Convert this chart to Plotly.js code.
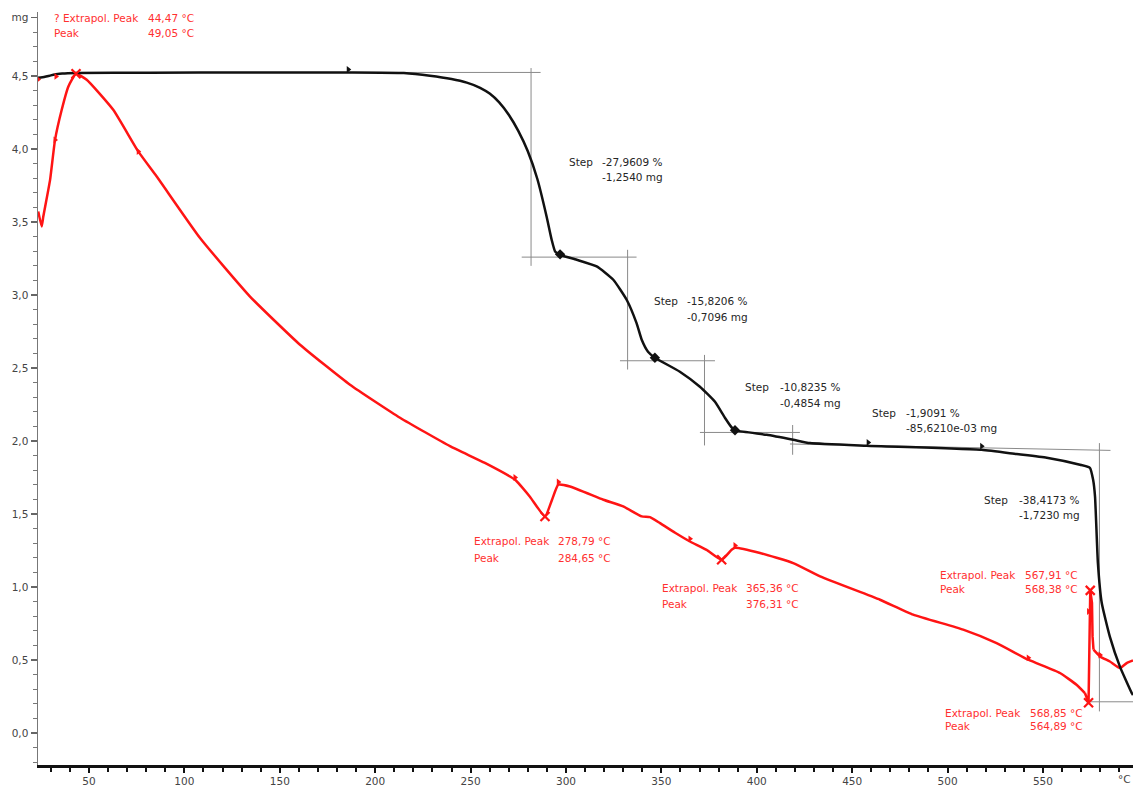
<!DOCTYPE html>
<html>
<head>
<meta charset="utf-8">
<script src="https://cdn.plot.ly/plotly-3.0.1.min.js"></script>
<style>html,body{margin:0;padding:0;background:#fff;}#chart{width:1133px;height:787px;}</style>
</head>
<body>
<div id="chart"></div>
<script>
// ---- TG curve (mass, mg) ----
const tgTemp = [23.3, 26.9, 30, 32.7, 36, 43.2, 82, 134.4, 186.8, 215, 228.7, 240, 248, 255, 260, 265, 270, 275, 280, 285, 289.9, 292.5, 294.3, 296.9, 305.6, 316.1, 324.8, 331.8, 337, 339.7, 343, 346.6, 359.7, 370.2, 378.1, 383.3, 387, 389.6, 405.2, 419.1, 427.9, 457.6, 517.9, 536.2, 552, 569.4, 574.6, 576.3, 577.3, 578.8, 580.8, 585.1, 590.4, 596.5, 597.2];
const tgMass = [4.488, 4.495, 4.505, 4.512, 4.518, 4.522, 4.523, 4.525, 4.525, 4.521, 4.503, 4.48, 4.455, 4.42, 4.38, 4.32, 4.235, 4.125, 3.985, 3.795, 3.535, 3.379, 3.299, 3.276, 3.242, 3.196, 3.105, 2.968, 2.808, 2.694, 2.612, 2.571, 2.475, 2.372, 2.269, 2.16, 2.091, 2.071, 2.043, 2.009, 1.986, 1.968, 1.94, 1.911, 1.886, 1.838, 1.817, 1.735, 1.62, 1.166, 0.892, 0.659, 0.453, 0.275, 0.26];

// ---- DTA curve (red) ----
const dtaTemp = [23.4, 25.2, 26.05, 29.6, 32.2, 35.7, 39.2, 43.2, 48.8, 62.7, 75.8, 85.5, 108.2, 134.4, 160.6, 186.8, 213, 239.2, 257.5, 273.3, 281.1, 289, 292.7, 296, 302.1, 319.6, 330, 339.7, 344, 349.3, 357.2, 365, 373.7, 381.6, 386.8, 388.6, 401.7, 419.1, 433.2, 464.6, 482, 508.2, 525.7, 542.3, 558.9, 567.6, 572, 573.9, 574.8, 575.7, 576, 576.5, 579.9, 585.1, 590.4, 593.9, 597.2];
const dtaVal  = [3.573, 3.47, 3.538, 3.789, 4.063, 4.269, 4.429, 4.516, 4.475, 4.269, 3.984, 3.812, 3.391, 2.99, 2.66, 2.386, 2.16, 1.965, 1.85, 1.735, 1.619, 1.483, 1.598, 1.701, 1.689, 1.598, 1.552, 1.484, 1.479, 1.438, 1.372, 1.312, 1.255, 1.187, 1.255, 1.269, 1.233, 1.164, 1.073, 0.913, 0.811, 0.708, 0.616, 0.502, 0.411, 0.331, 0.274, 0.208, 0.977, 0.892, 0.662, 0.571, 0.525, 0.49, 0.445, 0.479, 0.497];

// ---- markers ----
const dtaPeakTemp = [43.2, 289, 381.6, 574.8, 573.9];
const dtaPeakVal  = [4.516, 1.483, 1.187, 0.977, 0.208];
const dtaFlagTemp = [23.3, 32.7, 32.2, 75.8, 273.3, 296, 365, 388.6, 542.3, 573.9, 579.9];
const dtaFlagVal  = [4.477, 4.498, 4.063, 3.984, 1.75, 1.72, 1.33, 1.285, 0.515, 0.833, 0.535];
const tgFlagTemp = [185.9, 458.4, 517.9];
const tgFlagVal  = [4.545, 1.99, 1.965];
const tgStepTemp = [296.9, 346.6, 388.6];
const tgStepVal  = [3.279, 2.571, 2.074];

// ---- step evaluation construction lines (null separated) ----
const constrTemp = [187, 286.7, null, 281.7, 281.7, null, 276.8, 337, null, 332.3, 332.3, null, 328.3, 378.1, null, 372.6, 372.6, null, 370.2, 422.6, null, 418.8, 418.8, null, 417.4, 585.4, null, 579.6, 579.6, null, 572.6, 597.2];
const constrVal  = [4.525, 4.525, null, 4.555, 3.2, null, 3.26, 3.26, null, 3.31, 2.49, null, 2.55, 2.55, null, 2.59, 1.97, null, 2.059, 2.059, null, 2.11, 1.906, null, 1.98, 1.936, null, 1.986, 0.148, null, 0.214, 0.214];

// ---- text ----
const stepPct = ['-27,9609 %', '-15,8206 %', '-10,8235 %', '-1,9091 %', '-38,4173 %'];
const stepMg  = ['-1,2540 mg', '-0,7096 mg', '-0,4854 mg', '-85,6210e-03 mg', '-1,7230 mg'];
const peakTitle = ['? Extrapol. Peak', 'Extrapol. Peak', 'Extrapol. Peak', 'Extrapol. Peak', 'Extrapol. Peak'];
const peakExtrap = ['44,47 °C', '278,79 °C', '365,36 °C', '567,91 °C', '568,85 °C'];
const peakPeak = ['49,05 °C', '284,65 °C', '376,31 °C', '568,38 °C', '564,89 °C'];

// ---- axis ticks ----
const xTickVals = [50, 100, 150, 200, 250, 300, 350, 400, 450, 500, 550];
const xTickText = ['50', '100', '150', '200', '250', '300', '350', '400', '450', '500', '550'];
const yTickVals = [0, 0.5, 1, 1.5, 2, 2.5, 3, 3.5, 4, 4.5, 4.9];
const yTickText = ['0,0', '0,5', '1,0', '1,5', '2,0', '2,5', '3,0', '3,5', '4,0', '4,5', 'mg'];

// label placement (layout positions: [x of word, x of values, y line 1, y line 2])
const stepLabelPos = [[300.3, 317.8, 3.911, 3.810], [344.9, 362.4, 2.956, 2.853], [392.9, 410.9, 2.367, 2.264], [459.3, 477.1, 2.192, 2.089], [518.2, 536.2, 1.598, 1.495]];
const peakLabelPos = [[30.6, 79.9, 4.899, 4.797], [250.6, 294.8, 1.312, 1.196], [349.4, 393.4, 0.993, 0.886], [495.1, 539.4, 1.084, 0.986], [497.7, 542.0, 0.137, 0.045]];

const FONT = 'DejaVu Sans, Verdana, sans-serif';
const RED = '#ff1414';
const RED_TXT = '#ff3030';
const BLK_TXT = '#262626';

// split DTA into smooth parts and the sharp spike
const spikeStart = dtaTemp.indexOf(572);
const spikeEnd = dtaTemp.indexOf(576.5);
const redLine = {color: RED, width: 2.5};

const traces = [
  {x: constrTemp, y: constrVal, mode: 'lines', line: {color: '#8a8a8a', width: 1}, connectgaps: false},
  {x: dtaTemp.slice(0, spikeStart + 1), y: dtaVal.slice(0, spikeStart + 1), mode: 'lines', line: Object.assign({shape: 'spline', smoothing: 0.45}, redLine)},
  {x: dtaTemp.slice(spikeStart, spikeEnd + 1), y: dtaVal.slice(spikeStart, spikeEnd + 1), mode: 'lines', line: redLine},
  {x: dtaTemp.slice(spikeEnd), y: dtaVal.slice(spikeEnd), mode: 'lines', line: Object.assign({shape: 'spline', smoothing: 0.45}, redLine)},
  {x: tgTemp, y: tgMass, mode: 'lines', line: {color: '#111111', width: 2.5, shape: 'spline', smoothing: 0.45}},
  {x: dtaPeakTemp, y: dtaPeakVal, mode: 'markers', marker: {symbol: 'x-thin', size: 9, line: {color: RED, width: 2.2}}, cliponaxis: false},
  {x: dtaFlagTemp, y: dtaFlagVal, mode: 'markers', marker: {symbol: 'triangle-right', size: 6, color: RED}},
  {x: tgFlagTemp, y: tgFlagVal, mode: 'markers', marker: {symbol: 'triangle-right', size: 6, color: '#111'}},
  {x: tgStepTemp, y: tgStepVal, mode: 'markers', marker: {symbol: 'diamond', size: 8, color: '#111'}}
];

const annotations = [];
function addText(x, y, text, color) {
  annotations.push({x: x, y: y, xref: 'x', yref: 'y', text: text, showarrow: false, xanchor: 'left', yanchor: 'middle', font: {family: FONT, size: 10.5, color: color}});
}
for (let i = 0; i < stepPct.length; i++) {
  const p = stepLabelPos[i];
  addText(p[0], p[2], 'Step', BLK_TXT);
  addText(p[1], p[2], stepPct[i], BLK_TXT);
  addText(p[1], p[3], stepMg[i], BLK_TXT);
}
for (let i = 0; i < peakTitle.length; i++) {
  const p = peakLabelPos[i];
  addText(p[0], p[2], peakTitle[i], RED_TXT);
  addText(p[0], p[3], 'Peak', RED_TXT);
  addText(p[1], p[2], peakExtrap[i], RED_TXT);
  addText(p[1], p[3], peakPeak[i], RED_TXT);
}
annotations.push({x: 1, y: 0, xref: 'paper', yref: 'paper', text: '°C', showarrow: false, xanchor: 'right', yanchor: 'top', xshift: 0, yshift: -6, font: {family: FONT, size: 10.5, color: '#444'}});

const layout = {
  width: 1133, height: 787,
  margin: {l: 38, r: 0, t: 12, b: 22, pad: 0},
  paper_bgcolor: '#ffffff', plot_bgcolor: '#ffffff',
  showlegend: false,
  hovermode: false,
  xaxis: {
    range: [23.27, 597.2], showgrid: false, zeroline: false,
    showline: true, linecolor: '#111', linewidth: 2.5,
    tickmode: 'array', tickvals: xTickVals, ticktext: xTickText,
    ticks: 'outside', ticklen: 5, tickwidth: 2, tickcolor: '#111',
    tickfont: {family: FONT, size: 10.5, color: '#444'},
    minor: {tickmode: 'linear', tick0: 0, dtick: 10, ticks: 'outside', ticklen: 4, tickwidth: 2, tickcolor: '#111', showgrid: false}
  },
  yaxis: {
    range: [-0.219, 4.939], showgrid: false, zeroline: false,
    showline: true, linecolor: '#777', linewidth: 1.5,
    tickmode: 'array', tickvals: yTickVals, ticktext: yTickText,
    ticks: 'outside', ticklen: 6, tickwidth: 1.2, tickcolor: '#666',
    tickfont: {family: FONT, size: 10.5, color: '#444'},
    minor: {tickmode: 'linear', tick0: 0, dtick: 0.1, ticks: 'outside', ticklen: 4, tickwidth: 1.2, tickcolor: '#777', showgrid: false}
  },
  annotations: annotations
};

Plotly.newPlot('chart', traces, layout, {staticPlot: true, displayModeBar: false});
</script>
</body>
</html>
